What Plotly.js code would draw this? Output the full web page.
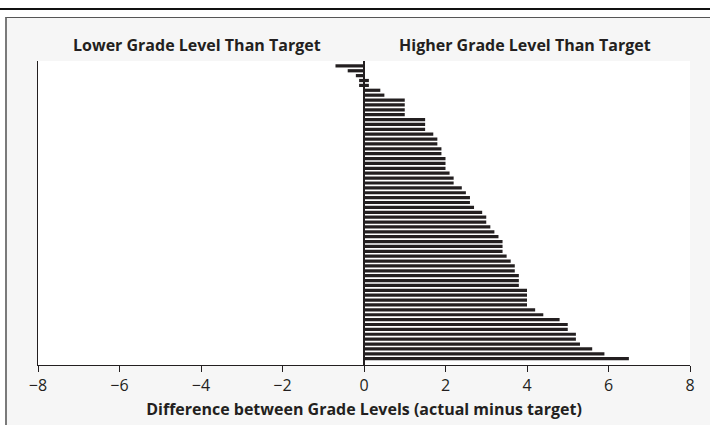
<!DOCTYPE html>
<html>
<head>
<meta charset="utf-8">
<script src="https://cdn.plot.ly/plotly-3.0.1.min.js"></script>
<style>
  html, body { margin: 0; padding: 0; background: #ffffff; }
  #wrap { position: relative; width: 710px; height: 425px; overflow: hidden; background: #ffffff; }
  #topline { position: absolute; left: 0; top: 8px; width: 710px; height: 2px; background: #111; }
  #box { position: absolute; left: 5px; top: 17px; width: 710px; height: 420px;
         background: #f6f6f6; border-left: 2px solid #7a7a7a; border-top: 1px solid #555; }
  #chart { position: absolute; left: 0; top: 0; width: 710px; height: 425px; }
</style>
</head>
<body>
<div id="wrap">
  <div id="topline"></div>
  <div id="box"></div>
  <div id="chart"></div>
</div>
<script>
// Difference between grade levels (actual minus target), one value per document, top to bottom
const differences = [
  -0.7, -0.4, -0.2, 0, 0, 0.4, 0.5, 1.0, 1.0, 1.0,
  1.0, 1.5, 1.5, 1.5, 1.7, 1.8, 1.8, 1.9, 1.9, 2.0,
  2.0, 2.0, 2.1, 2.2, 2.2, 2.4, 2.5, 2.6, 2.6, 2.7,
  2.9, 3.0, 3.0, 3.1, 3.2, 3.3, 3.4, 3.4, 3.4, 3.5,
  3.6, 3.7, 3.7, 3.8, 3.8, 3.8, 4.0, 4.0, 4.0, 4.0,
  4.2, 4.4, 4.8, 5.0, 5.0, 5.2, 5.2, 5.3, 5.6, 5.9,
  6.5
];
const xTickValues = [-8, -6, -4, -2, 0, 2, 4, 6, 8];
const xTickLabels = ['\u22128', '\u22126', '\u22124', '\u22122', '0', '2', '4', '6', '8'];
const headerLeft = 'Lower Grade Level Than Target';
const headerRight = 'Higher Grade Level Than Target';
const xTitle = 'Difference between Grade Levels (actual minus target)';

const zeroHalf = 0.12; // zero-difference rows drawn as a short mark centred on 0
const rows = differences.map((v, i) => i + 1);
const barX = differences.map(v => v === 0 ? 2 * zeroHalf : v);
const barBase = differences.map(v => v === 0 ? -zeroHalf : 0);

const FONT = 'Open Sans, Noto Sans, sans-serif';
const INK = '#231f20';

const trace = {
  type: 'bar',
  orientation: 'h',
  x: barX,
  base: barBase,
  y: rows,
  width: 0.66,
  marker: { color: INK, line: { width: 0 } },
  hoverinfo: 'skip'
};

const layout = {
  width: 710,
  height: 425,
  margin: { l: 38, r: 20, t: 61, b: 60, pad: 0 },
  paper_bgcolor: 'rgba(0,0,0,0)',
  plot_bgcolor: '#ffffff',
  showlegend: false,
  font: { family: FONT, color: INK },
  xaxis: {
    range: [-8, 8],
    tickvals: xTickValues,
    ticktext: xTickLabels,
    ticks: 'outside',
    ticklen: 6,
    tickwidth: 1,
    tickcolor: INK,
    showline: true,
    linecolor: INK,
    linewidth: 1,
    showgrid: false,
    zeroline: true,
    zerolinecolor: INK,
    zerolinewidth: 1.3,
    tickfont: { family: FONT, size: 16, color: INK },
    title: { text: xTitle, font: { family: FONT, size: 16, color: INK, weight: 700 }, standoff: 8 },
    automargin: false,
    fixedrange: true
  },
  yaxis: {
    range: [differences.length + 1.3, 0],
    showticklabels: false,
    ticks: '',
    showgrid: false,
    zeroline: false,
    showline: true,
    linecolor: INK,
    linewidth: 1,
    automargin: false,
    fixedrange: true
  },
  annotations: [
    { text: headerLeft, xref: 'x', yref: 'paper', x: -4.1, y: 1, yshift: 16, yanchor: 'middle',
      xanchor: 'center', showarrow: false, font: { family: FONT, size: 16, color: INK, weight: 700 } },
    { text: headerRight, xref: 'x', yref: 'paper', x: 3.95, y: 1, yshift: 16, yanchor: 'middle',
      xanchor: 'center', showarrow: false, font: { family: FONT, size: 16, color: INK, weight: 700 } }
  ]
};

Plotly.newPlot('chart', [trace], layout, { staticPlot: true, displayModeBar: false });
</script>
</body>
</html>
